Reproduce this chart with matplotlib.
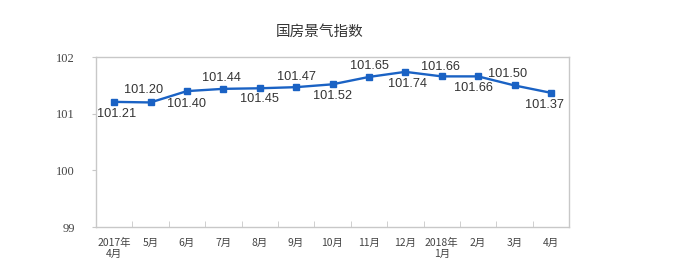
import matplotlib
matplotlib.use("Agg")
import matplotlib.pyplot as plt
import numpy as np

plt.rcParams['font.family'] = ['Liberation Sans', 'Noto Sans CJK SC', 'DejaVu Sans']

title = "国房景气指数"
categories = ["2017年\n4月", "5月", "6月", "7月", "8月", "9月", "10月", "11月",
              "12月", "2018年\n1月", "2月", "3月", "4月"]
values = [101.21, 101.20, 101.40, 101.44, 101.45, 101.47, 101.52, 101.65,
          101.74, 101.66, 101.66, 101.50, 101.37]
yticks = [99, 100, 101, 102]

# label offsets in pixels (dx, dy)
offsets = [(2, -12), (-7, 12), (0, -13), (-2, 11), (0, -11), (0, 10), (0, -12),
           (1, 11), (2, -12), (-1, 9), (-5, -12), (-7, 11), (-6, -12)]

fig = plt.figure(figsize=(7, 2.8), dpi=100)
ax = fig.add_axes([0.137, 0.189, 0.676, 0.607])

color = "#1a62c4"
x = np.arange(len(values))
ax.plot(x, values, color=color, lw=1.7, marker='s', ms=4.5, zorder=3)

for xi, v, (dx, dy) in zip(x, values, offsets):
    ax.annotate(f"{v:.2f}", (xi, v), xytext=(dx, dy), textcoords='offset pixels',
                ha='center', va='center', fontsize=9.2, color="#333333",
                family=['Liberation Sans', 'DejaVu Sans'])

ax.set_xlim(-0.5, len(values) - 0.5)
ax.set_ylim(99, 102)
ax.set_yticks(yticks)
ax.set_yticklabels([str(t) for t in yticks], fontsize=9, color="#444444",
                   family=['Liberation Serif', 'DejaVu Serif'])
ax.set_xticks(x)
ax.set_xticklabels(categories, fontsize=7.5, color="#444444",
                   family=['Noto Sans CJK SC', 'DejaVu Sans'], linespacing=1.1)
ax.tick_params(axis='x', length=0, pad=8)
ax.set_xticks(np.arange(0.5, len(values) - 0.5, 1), minor=True)
ax.tick_params(axis='x', which='minor', direction='in', length=4, color="#c8c8c8")
ax.tick_params(axis='y', length=3, color="#c8c8c8", pad=12)

for s in ax.spines.values():
    s.set_color("#c8c8c8")
    s.set_linewidth(1)

fig.text(0.457, 0.885, title, ha='center', va='center', fontsize=10.5,
         color="#333333", family=['Noto Sans CJK SC', 'DejaVu Sans'])

fig.savefig("out.png", dpi=100)
